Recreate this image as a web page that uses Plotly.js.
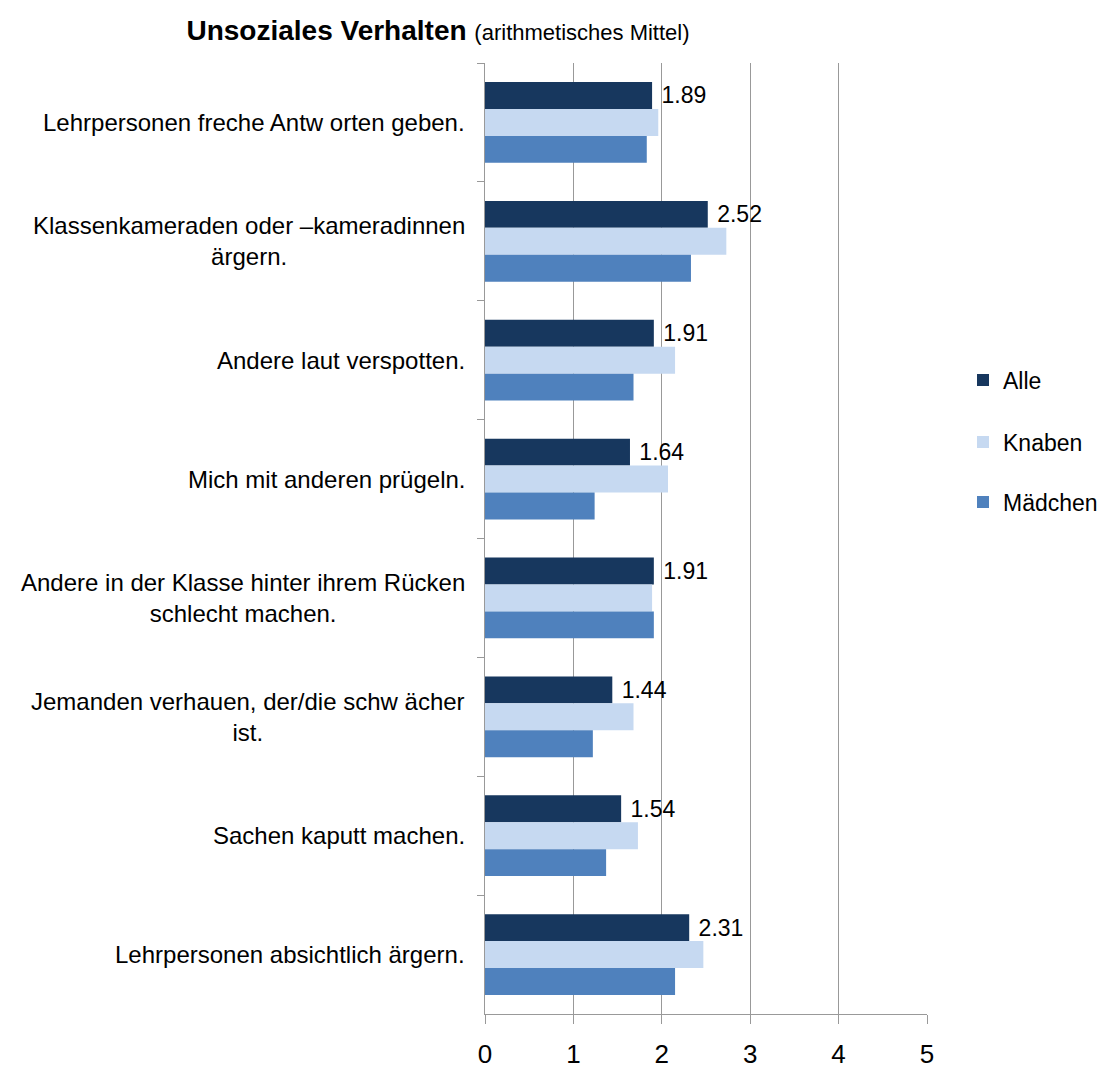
<!DOCTYPE html>
<html>
<head>
<meta charset="utf-8">
<script src="https://cdn.plot.ly/plotly-3.0.1.min.js"></script>
<style>html,body{margin:0;padding:0;background:#fff;}#chart{width:1103px;height:1068px;}</style>
</head>
<body>
<div id="chart"></div>
<script>
var categories = [
  "Lehrpersonen freche Antw orten geben.",
  "Klassenkameraden oder –kameradinnen<br>ärgern.",
  "Andere laut verspotten.",
  "Mich mit anderen prügeln.",
  "Andere in der Klasse hinter ihrem Rücken<br>schlecht machen.",
  "Jemanden verhauen, der/die schw ächer<br>ist.",
  "Sachen kaputt machen.",
  "Lehrpersonen absichtlich ärgern."
];
var seriesNames = ["Alle", "Knaben", "Mädchen"];
var alle    = [1.89, 2.52, 1.91, 1.64, 1.91, 1.44, 1.54, 2.31];
var knaben  = [1.96, 2.73, 2.15, 2.07, 1.89, 1.68, 1.73, 2.47];
var maedchen= [1.83, 2.33, 1.68, 1.24, 1.91, 1.22, 1.37, 2.15];
var xTicks = [0, 1, 2, 3, 4, 5];

var colors = ["#17375E", "#C6D9F1", "#4F81BD"];
var font = "Liberation Sans, Arial, sans-serif";

var traces = [
  {type:"bar", orientation:"h", name:seriesNames[0], x:alle, y:categories,
   marker:{color:colors[0]}, text:alle.map(function(v){return "\u00a0" + v.toFixed(2);}),
   textposition:"outside", textfont:{size:23, color:"#000", family:font}, cliponaxis:false,
   legend:"legend", hoverinfo:"x"},
  {type:"bar", orientation:"h", name:seriesNames[1], x:knaben, y:categories,
   marker:{color:colors[1]}, legend:"legend2", hoverinfo:"x"},
  {type:"bar", orientation:"h", name:seriesNames[2], x:maedchen, y:categories,
   marker:{color:colors[2]}, legend:"legend3", hoverinfo:"x"}
];

var annotations = categories.map(function(c){
  return {xref:"paper", yref:"y", x:0, y:c, xshift:-18, xanchor:"right", yanchor:"middle",
          align:"center", text:c, showarrow:false, font:{size:24, color:"#000", family:font}};
});

function leg(yPx){
  return {xref:"container", yref:"container", x:963/1103, xanchor:"left", y:1-yPx/1068, yanchor:"middle",
          font:{size:23, color:"#000", family:font}, bgcolor:"rgba(0,0,0,0)", borderwidth:0};
}
var layout = {
  width:1103, height:1068,
  margin:{l:485, r:176, t:63, b:54, pad:0, autoexpand:false},
  paper_bgcolor:"#fff", plot_bgcolor:"#fff",
  font:{family:font, color:"#000"},
  title:{text:"<b>Unsoziales Verhalten</b> <span style='font-size:22px'>(arithmetisches Mittel)</span>",
         x:438/1103, xanchor:"center", xref:"container", y:1-30/1068, yanchor:"middle", yref:"container",
         font:{size:28, color:"#000", family:font}},
  barmode:"group", bargap:0.32, bargroupgap:0,
  xaxis:{range:[0,5], tickvals:xTicks, ticktext:xTicks.map(String), showgrid:true, gridcolor:"#999999", gridwidth:1,
         zeroline:false, showline:true, linecolor:"#999999", linewidth:1, mirror:false,
         ticks:"outside", ticklen:9, tickcolor:"#999999", tickfont:{size:26, color:"#000", family:font},
         ticklabelstandoff:8, fixedrange:true, automargin:false},
  yaxis:{autorange:"reversed", showticklabels:false, showline:true, linecolor:"#999999", linewidth:1,
         ticks:"outside", ticklen:7, tickcolor:"#999999", tickson:"boundaries", showgrid:false,
         zeroline:false, fixedrange:true, automargin:false},
  showlegend:true,
  legend:leg(380),
  legend2:leg(442),
  legend3:leg(502),
  annotations:annotations
};
Plotly.newPlot("chart", traces, layout, {displayModeBar:false, staticPlot:true});
</script>
</body>
</html>
